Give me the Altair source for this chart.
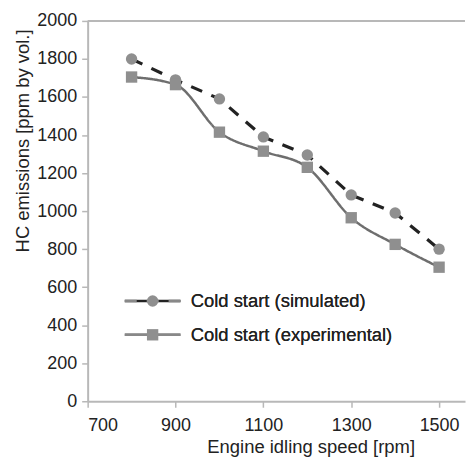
import altair as alt
import pandas as pd

speed = [800, 900, 1000, 1100, 1200, 1300, 1400, 1500]
simulated = [1800, 1690, 1590, 1390, 1295, 1085, 990, 800]
experimental = [1705, 1665, 1415, 1315, 1230, 965, 825, 705]
series_names = ["Cold start (simulated)", "Cold start (experimental)"]
x_ticks = [700, 900, 1100, 1300, 1500]
y_ticks = [0, 200, 400, 600, 800, 1000, 1200, 1400, 1600, 1800, 2000]

rows = []
for s, v in zip(speed, simulated):
    rows.append({"speed": s, "hc": v, "series": series_names[0], "series_pt": series_names[0]})
for s, v in zip(speed, experimental):
    rows.append({"speed": s, "hc": v, "series": series_names[1], "series_pt": series_names[1]})
df = pd.DataFrame(rows)

W, H = 379, 382
FONT = "Liberation Sans"
LEG_X = 56
LEG_Y = 272
ROW_PAD = 15

xenc = alt.X("speed:Q", scale=alt.Scale(domain=[700, 1559], nice=False, zero=False),
             axis=alt.Axis(values=x_ticks, format="d", title="Engine idling speed [rpm]", titleX=224,
                           labelPadding=9, titlePadding=3))
yenc = alt.Y("hc:Q", scale=alt.Scale(domain=[0, 2000], nice=False),
             axis=alt.Axis(values=y_ticks, format="d", title="HC emissions [ppm by vol.]",
                           titleX=-65, titleY=120, titleAlign="center", titleBaseline="middle",
                           labelPadding=5))

def line_legend():
    return alt.Legend(title=None, orient="none", legendX=LEG_X, legendY=LEG_Y,
                      symbolType="M-5,0H5", symbolSize=125, symbolStrokeWidth=2.5,
                      symbolFillColor="transparent",
                      labelFontSize=18.5, labelColor="#222", labelOffset=29, labelLimit=400,
                      padding=0, rowPadding=ROW_PAD)

line_color = alt.Color("series:N", sort=series_names,
                       scale=alt.Scale(range=["#222222", "#6e6e6e"]),
                       legend=line_legend())
line_dash = alt.StrokeDash("series:N", sort=series_names,
                           scale=alt.Scale(range=[[12, 10], [1, 0]]),
                           legend=line_legend())

line_sim = alt.Chart(df).transform_filter(
    alt.datum.series == series_names[0]
).mark_line(strokeWidth=3.2).encode(x=xenc, y=yenc, color=line_color, strokeDash=line_dash)

line_exp = alt.Chart(df).transform_filter(
    alt.datum.series == series_names[1]
).mark_line(strokeWidth=2.5, interpolate="monotone").encode(x=xenc, y=yenc, color=line_color, strokeDash=line_dash)

points = alt.Chart(df).mark_point(filled=True, size=130, color="#8f8f8f", opacity=1).encode(
    x=xenc, y=yenc,
    shape=alt.Shape("series_pt:N", sort=series_names,
                    scale=alt.Scale(range=["circle", "square"]),
                    legend=alt.Legend(title=None, orient="none", legendX=LEG_X, legendY=LEG_Y,
                                      symbolSize=130, symbolFillColor="#8f8f8f", symbolStrokeWidth=0,
                                      symbolOpacity=1,
                                      labelFontSize=18.5, labelOpacity=0, labelOffset=29, labelLimit=400,
                                      padding=0, rowPadding=ROW_PAD)),
)

top_rule = alt.Chart(pd.DataFrame({"a": [0]})).mark_rule(color="#b8b8b8", strokeWidth=2).encode(
    x=alt.value(0), x2=alt.value(W), y=alt.value(0)
)

chart = alt.layer(top_rule, line_exp, line_sim, points).properties(
    width=W, height=H, padding={"left": 5, "top": 3, "right": 0, "bottom": 0}
).configure_view(stroke=None).configure_axis(
    grid=False, domainColor="#b8b8b8", domainWidth=2, tickColor="#b8b8b8", tickWidth=1.5,
    tickSize=6, labelFont=FONT, titleFont=FONT, labelFontSize=18, titleFontSize=18.5,
    labelColor="#222", titleColor="#222", titleFontWeight="normal"
).configure_legend(labelFont=FONT)

chart.save("out.html", embed_options={"renderer": "svg", "actions": False})
